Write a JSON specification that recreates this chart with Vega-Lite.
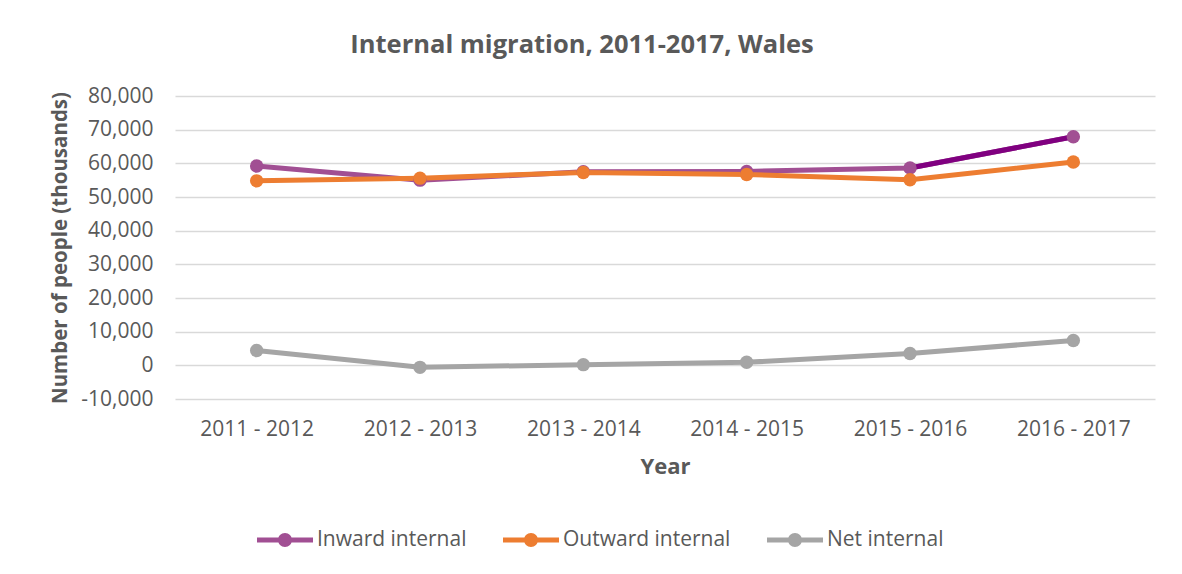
{
  "$schema": "https://vega.github.io/schema/vega-lite/v6.json",
  "width": 980,
  "height": 303,
  "autosize": "none",
  "padding": {"left": 175, "top": 96, "right": 27, "bottom": 175},
  "background": "white",
  "config": {"font": "Open Sans", "view": {"stroke": null}},
  "title": {
    "text": "Internal migration, 2011-2017, Wales",
    "fontSize": 25.5,
    "fontWeight": "bold",
    "color": "#595959",
    "anchor": "middle",
    "frame": "group",
    "dx": -83,
    "offset": 27
  },
  "data": {
    "values": [
      {"year": "2011 - 2012", "series": "Inward internal", "value": 59200},
      {"year": "2012 - 2013", "series": "Inward internal", "value": 55000},
      {"year": "2013 - 2014", "series": "Inward internal", "value": 57500},
      {"year": "2014 - 2015", "series": "Inward internal", "value": 57600},
      {"year": "2015 - 2016", "series": "Inward internal", "value": 58600},
      {"year": "2016 - 2017", "series": "Inward internal", "value": 67900},
      {"year": "2011 - 2012", "series": "Outward internal", "value": 54800},
      {"year": "2012 - 2013", "series": "Outward internal", "value": 55600},
      {"year": "2013 - 2014", "series": "Outward internal", "value": 57300},
      {"year": "2014 - 2015", "series": "Outward internal", "value": 56700},
      {"year": "2015 - 2016", "series": "Outward internal", "value": 55100},
      {"year": "2016 - 2017", "series": "Outward internal", "value": 60400},
      {"year": "2011 - 2012", "series": "Net internal", "value": 4400},
      {"year": "2012 - 2013", "series": "Net internal", "value": -600},
      {"year": "2013 - 2014", "series": "Net internal", "value": 200},
      {"year": "2014 - 2015", "series": "Net internal", "value": 900},
      {"year": "2015 - 2016", "series": "Net internal", "value": 3500},
      {"year": "2016 - 2017", "series": "Net internal", "value": 7400}
    ]
  },
  "encoding": {
    "x": {
      "field": "year",
      "type": "nominal",
      "sort": null,
      "axis": {
        "title": "Year",
        "labelAngle": 0,
        "labelFontSize": 21,
        "labelColor": "#595959",
        "labelPadding": 19,
        "ticks": false,
        "domain": false,
        "grid": false,
        "titleFontSize": 22,
        "titleFontWeight": "bold",
        "titleColor": "#595959",
        "titlePadding": 17
      }
    },
    "y": {
      "field": "value",
      "type": "quantitative",
      "scale": {"domain": [-10000, 80000], "nice": false, "zero": false},
      "axis": {
        "title": "Number of people (thousands)",
        "values": [-10000, 0, 10000, 20000, 30000, 40000, 50000, 60000, 70000, 80000],
        "format": ",.0f",
        "labelExpr": "replace(datum.label, '−', '-')",
        "labelFontSize": 21,
        "labelColor": "#595959",
        "labelPadding": 22,
        "ticks": false,
        "domain": false,
        "gridColor": "#D9D9D9",
        "gridWidth": 1.5,
        "titleFontSize": 20.5,
        "titleFontWeight": "bold",
        "titleColor": "#595959",
        "titlePadding": 10
      }
    }
  },
  "layer": [
    {
      "mark": {"type": "line", "strokeWidth": 5},
      "encoding": {
        "color": {
          "field": "series",
          "type": "nominal",
          "scale": {
            "domain": ["Inward internal", "Outward internal", "Net internal"],
            "range": ["#A14F93", "#ED7D31", "#A5A5A5"]
          },
          "legend": {
            "orient": "none",
            "legendX": 82,
            "legendY": 416,
            "direction": "horizontal",
            "title": null,
            "labelFontSize": 21,
            "labelColor": "#595959",
            "labelLimit": 400,
            "symbolType": "M-1,-0.09H1V0.09H-1Z M0.25,0A0.25,0.25 0 1,1 -0.25,0A0.25,0.25 0 1,1 0.25,0Z",
            "symbolSize": 3136,
            "symbolStrokeWidth": 0,
            "columnPadding": 36,
            "labelOffset": 4,
            "encode": {"symbols": {"update": {"fill": {"scale": "color", "field": "value"}}}}
          }
        }
      }
    },
    {
      "transform": [
        {"filter": "datum.series === 'Inward internal' && (datum.year === '2015 - 2016' || datum.year === '2016 - 2017')"}
      ],
      "mark": {"type": "line", "strokeWidth": 5, "color": "#800080"},
      "encoding": {}
    },
    {
      "mark": {"type": "point", "filled": true, "size": 180, "opacity": 1},
      "encoding": {
        "color": {"field": "series", "type": "nominal", "legend": null}
      }
    }
  ]
}
